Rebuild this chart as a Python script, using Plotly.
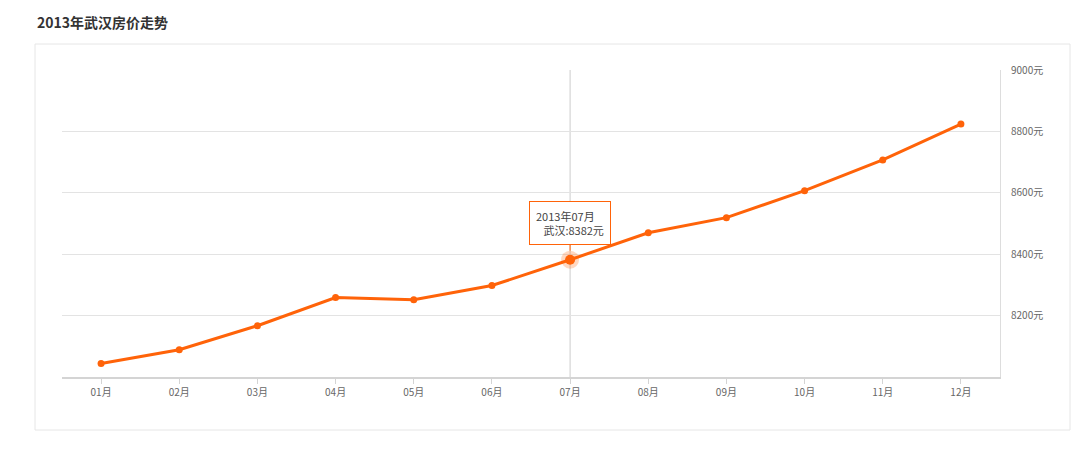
import plotly.graph_objects as go

months = ["01月", "02月", "03月", "04月", "05月", "06月", "07月", "08月", "09月", "10月", "11月", "12月"]
prices = [8044, 8089, 8167, 8259, 8252, 8298, 8382, 8470, 8519, 8607, 8707, 8824]
ytick_vals = [8200, 8400, 8600, 8800, 9000]
ytick_text = [str(v) + "元" for v in ytick_vals]
title_text = "2013年武汉房价走势"
city = "武汉"
hl_index = 6

FONT = "Noto Sans CJK SC, Open Sans, sans-serif"
ORANGE = "#ff6309"

fig = go.Figure()
fig.add_trace(go.Scatter(
    x=months, y=prices, mode="lines+markers",
    line=dict(color=ORANGE, width=3),
    marker=dict(color=ORANGE, size=7),
    hoverinfo="skip", showlegend=False,
))
fig.add_trace(go.Scatter(
    x=[months[hl_index]], y=[prices[hl_index]], mode="markers",
    marker=dict(color="rgba(255,99,9,0.25)", size=18),
    hoverinfo="skip", showlegend=False,
))
fig.add_trace(go.Scatter(
    x=[months[hl_index]], y=[prices[hl_index]], mode="markers",
    marker=dict(color=ORANGE, size=10),
    hoverinfo="skip", showlegend=False,
))

fig.add_shape(type="line", xref="x", yref="paper", x0=hl_index, x1=hl_index, y0=0, y1=1,
              line=dict(color="#cccccc", width=1), layer="below")
fig.add_shape(type="rect", xref="paper", yref="paper",
              x0=(35 - 62) / 938, x1=(1070 - 62) / 938, y0=-(430 - 377) / 307, y1=(377 - 44) / 307,
              line=dict(color="#e6e6e6", width=1), layer="below")

fig.add_annotation(
    x=months[hl_index], y=prices[hl_index], xref="x", yref="y",
    text="2013年07月<br>   " + city + ":" + str(prices[hl_index]) + "元",
    showarrow=True, arrowhead=0, arrowcolor=ORANGE, arrowwidth=1, ax=0, ay=-37, standoff=9,
    bgcolor="white", bordercolor=ORANGE, borderwidth=1, borderpad=6, align="left",
    font=dict(family=FONT, size=11, color="#444"),
)

fig.add_annotation(
    text="<b>" + title_text + "</b>", xref="paper", yref="paper",
    x=(35 - 62) / 938, y=(377 - 22) / 307, xanchor="left", yanchor="middle",
    showarrow=False, font=dict(family=FONT, size=14, color="#333"),
)

fig.update_layout(
    width=1080, height=453,
    margin=dict(l=54, r=88, t=62, b=84),
    paper_bgcolor="white", plot_bgcolor="white",
    font=dict(family=FONT, size=10, color="#666"),
    xaxis=dict(type="category", range=[-0.5, 11.5], showgrid=False, zeroline=False,
               showline=True, linecolor="#d4d4d4", linewidth=2,
               ticks="outside", ticklen=5, tickcolor="#d4d4d4",
               tickfont=dict(size=10, color="#666")),
    yaxis=dict(side="right", range=[8000, 9000], tickmode="array",
               tickvals=ytick_vals, ticktext=ytick_text,
               showgrid=True, gridcolor="#e3e3e3", gridwidth=1, zeroline=False,
               showline=True, linecolor="#dddddd", linewidth=1,
               ticklabelstandoff=8, tickfont=dict(size=10, color="#666")),
)

fig.write_html("out.html")
